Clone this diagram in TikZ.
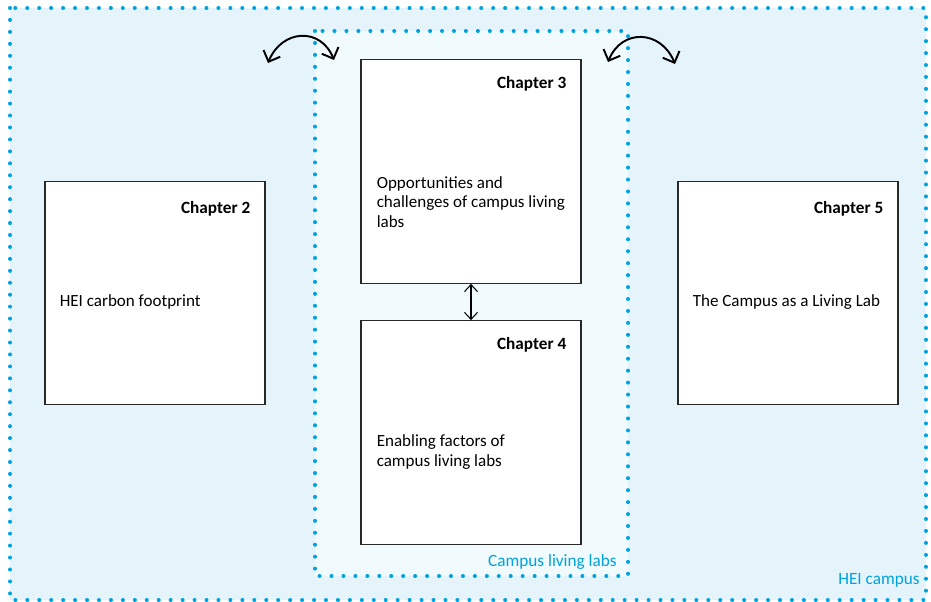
\documentclass[tikz,border=0pt]{standalone}
\usepackage{fontspec}
\setmainfont{Carlito}
\usepackage{xcolor}
\definecolor{dotblue}{RGB}{0, 163, 224}
\definecolor{campusfill}{RGB}{229, 244, 250}
\definecolor{labfill}{RGB}{241, 250, 253}
\definecolor{boxline}{RGB}{40, 40, 40}
\usepackage{tikz}
\usetikzlibrary{arrows.meta,positioning,calc}

\begin{document}
\begin{tikzpicture}[
  x=0.02cm, y=0.02cm,
  dotframe/.style={draw=dotblue, line width=2.3pt, line cap=round, dash pattern=on 0pt off 6.8pt},
  chapbox/.style={draw=boxline, fill=white, line width=0.7pt, minimum width=4.4cm, minimum height=4.47cm, inner sep=0pt},
  chaptitle/.style={font=\fontsize{9.8}{12}\selectfont\bfseries, inner sep=0pt},
  chaptext/.style={font=\fontsize{9.7}{11.2}\selectfont, align=left, inner sep=0pt},
  framelabel/.style={font=\fontsize{9.8}{12}\selectfont, text=dotblue, inner sep=0pt},
  swaparrow/.style={{Straight Barb[length=1.8mm,width=3.6mm]}-{Straight Barb[length=1.8mm,width=3.6mm]}, line width=1.1pt, black},
  linkarrow/.style={{Straight Barb[length=1.4mm,width=2.6mm]}-{Straight Barb[length=1.4mm,width=2.6mm]}, line width=0.6pt, black}
]
\useasboundingbox (0,0) rectangle (931,-602);

% frames
\coordinate (hei_nw) at (10,-8);
\coordinate (hei_se) at (926,-600);
\coordinate (lab_nw) at (315,-31);
\coordinate (lab_se) at (628,-576);
\fill[campusfill] (hei_nw) rectangle (hei_se);
\fill[labfill] (lab_nw) rectangle (lab_se);
\draw[dotframe] (hei_nw) rectangle (hei_se);
\draw[dotframe] (lab_nw) rectangle (lab_se);
\node[framelabel, anchor=base east] (hei_label) at ([xshift=-0.12cm, yshift=0.32cm]hei_se) {HEI campus};
\node[framelabel, anchor=base east] (lab_label) at ([xshift=-0.22cm, yshift=0.2cm]lab_se) {Campus living labs};

% chapters
\node[chapbox] (ch2) at (155,-293) {};
\node[chapbox] (ch3) at (471,-171.5) {};
\node[chapbox] (ch4) at (471,-432.5) {};
\node[chapbox] (ch5) at (788,-293) {};

\node[chaptitle, anchor=base east] (ch2_title) at ([xshift=-0.3cm, yshift=-0.65cm]ch2.north east) {Chapter 2};
\node[chaptitle, anchor=base east] (ch3_title) at ([xshift=-0.3cm, yshift=-0.59cm]ch3.north east) {Chapter 3};
\node[chaptitle, anchor=base east] (ch4_title) at ([xshift=-0.3cm, yshift=-0.59cm]ch4.north east) {Chapter 4};
\node[chaptitle, anchor=base east] (ch5_title) at ([xshift=-0.3cm, yshift=-0.65cm]ch5.north east) {Chapter 5};

\node[chaptext, anchor=base west] (ch2_text) at ([xshift=0.3cm, yshift=-2.52cm]ch2.north west) {HEI carbon footprint};
\node[chaptext, anchor=north west] (ch3_text) at ([xshift=0.32cm, yshift=-2.34cm]ch3.north west) {Opportunities and\\challenges of campus living\\labs};
\node[chaptext, anchor=north west] (ch4_text) at ([xshift=0.32cm, yshift=-2.28cm]ch4.north west) {Enabling factors of\\campus living labs};
\node[chaptext, anchor=base west] (ch5_text) at ([xshift=0.3cm, yshift=-2.52cm]ch5.north west) {The Campus as a Living Lab};

% links
\draw[linkarrow] (ch3) -- (ch4);

\coordinate (swap_l1) at (268,-63);
\coordinate (swap_r1) at (334,-60);
\coordinate (swap_l2) at (608,-62);
\coordinate (swap_r2) at (675,-64);
\draw[swaparrow] (swap_l1) to[out=68, in=112, looseness=1.4] (swap_r1);
\draw[swaparrow] (swap_l2) to[out=68, in=112, looseness=1.4] (swap_r2);
\end{tikzpicture}
\end{document}
